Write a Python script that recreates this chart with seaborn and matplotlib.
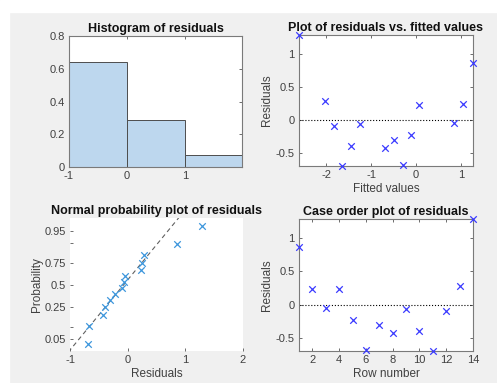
from statistics import NormalDist

import matplotlib

matplotlib.use("Agg")
import matplotlib.pyplot as plt
import numpy as np
import pandas as pd
import seaborn as sns
from matplotlib.patches import Rectangle

# residuals in case order (row 1..14) and matching fitted values
row_number = list(range(1, 15))
residuals = [0.86, 0.235, -0.04, 0.24, -0.22, -0.675, -0.30, -0.425, -0.06, -0.39, -0.69, -0.09, 0.285, 1.285]
fitted = [1.27, 0.07, 0.85, 1.04, -0.11, -0.30, -0.49, -0.69, -1.26, -1.45, -1.65, -1.84, -2.03, -2.61]

hist_edges = [-1, 0, 1, 2]
prob_ticks = [0.05, 0.10, 0.25, 0.50, 0.75, 0.90, 0.95]
prob_labels = ["0.05", "", "0.25", "0.5", "0.75", "", "0.95"]

df = pd.DataFrame({"row": row_number, "resid": residuals, "fitted": fitted})

sns.set_theme(style="white")
plt.rcParams["font.family"] = ["Liberation Sans", "DejaVu Sans"]

W, H = 497, 383
fig = plt.figure(figsize=(W / 100, H / 100), dpi=100, facecolor="#f0f0f0")
# white strips along the top and left edge of the screenshot
fig.patches.append(Rectangle((0, 1 - 12 / H), 1, 12 / H, transform=fig.transFigure, color="white", zorder=-1))
fig.patches.append(Rectangle((0, 0), 9 / W, 1, transform=fig.transFigure, color="white", zorder=-1))


def make_ax(left, right, top, bottom):
    return fig.add_axes([left / W, 1 - bottom / H, (right - left) / W, (bottom - top) / H])


def style(ax, spines=True):
    ax.set_facecolor("white")
    for s in ax.spines.values():
        s.set_visible(spines)
        s.set_color("#7a7a7a")
        s.set_linewidth(0.8)
    ax.tick_params(direction="in", length=2.5, width=0.6, color="#555555",
                   labelsize=8, labelcolor="#404040", pad=3,
                   top=True, right=True, bottom=True, left=True)


title_kw = dict(fontsize=9, fontweight="bold", color="#111111", pad=3)
label_kw = dict(fontsize=8.5, color="#404040")

# histogram of residuals
ax1 = make_ax(69, 242, 36, 167)
sns.histplot(data=df, x="resid", bins=hist_edges, stat="probability", color="#bdd7ee",
             edgecolor="#4d4d4d", linewidth=0.7, alpha=1, ax=ax1)
ax1.set_xlim(-1, 1.98)
ax1.set_ylim(0, 0.8)
ax1.set_xticks([-1, 0, 1])
ax1.set_xticklabels(["-1", "0", "1"])
ax1.set_yticks([0, 0.2, 0.4, 0.6, 0.8])
ax1.set_yticklabels(["0", "0.2", "0.4", "0.6", "0.8"])
ax1.set_xlabel("")
ax1.set_ylabel("")
ax1.set_title("Histogram of residuals", **title_kw)
style(ax1)

# residuals vs fitted
ax2 = make_ax(299, 473, 35, 166)
sns.scatterplot(data=df, x="fitted", y="resid", marker="x", color="#3a3aff", s=22,
                linewidth=0.9, ax=ax2, clip_on=False, zorder=3)
ax2.set_xlim(min(fitted), max(fitted))
ax2.set_ylim(min(residuals), max(residuals))
ax2.axhline(0, color="black", linestyle=":", linewidth=0.8)
ax2.set_xticks([-2, -1, 0, 1])
ax2.set_xticklabels(["-2", "-1", "0", "1"])
ax2.set_yticks([-0.5, 0, 0.5, 1])
ax2.set_yticklabels(["-0.5", "0", "0.5", "1"])
ax2.set_xlabel("Fitted values", labelpad=2, **label_kw)
ax2.set_ylabel("Residuals", labelpad=2, **label_kw)
ax2.set_title("Plot of residuals vs. fitted values", **title_kw)
style(ax2)

# normal probability plot
nd = NormalDist()
n = len(residuals)
sorted_res = np.sort(residuals)
z = [nd.inv_cdf((i - 0.5) / n) for i in range(1, n + 1)]
prob_df = pd.DataFrame({"resid": sorted_res, "z": z})
q1, q3 = np.percentile(sorted_res, [25, 75], method="hazen")
zq1, zq3 = nd.inv_cdf(0.25), nd.inv_cdf(0.75)
slope = (zq3 - zq1) / (q3 - q1)
line_x = np.array([-1.2, 2.0])
line_z = zq1 + slope * (line_x - q1)

ax3 = make_ax(70, 243, 218, 350.7)
ax3.plot(line_x, line_z, linestyle=(0, (4, 3)), color="#606060", linewidth=0.8)
sns.scatterplot(data=prob_df, x="resid", y="z", marker="x", color="#3c96dc", s=22,
                linewidth=0.9, ax=ax3, zorder=3)
ax3.set_xlim(-1, 2)
ax3.set_ylim(-2.0, 2.05)
ax3.set_xticks([-1, 0, 1, 2])
ax3.set_xticklabels(["-1", "0", "1", "2"])
ax3.set_yticks([nd.inv_cdf(p) for p in prob_ticks])
ax3.set_yticklabels(prob_labels)
ax3.set_xlabel("Residuals", labelpad=2, **label_kw)
ax3.set_ylabel("Probability", labelpad=1, **label_kw)
ax3.set_title("Normal probability plot of residuals", **title_kw)
style(ax3, spines=False)
ax3.tick_params(top=False, right=False)

# case order plot
ax4 = make_ax(299, 473, 219, 351)
sns.scatterplot(data=df, x="row", y="resid", marker="x", color="#3a3aff", s=22,
                linewidth=0.9, ax=ax4, clip_on=False, zorder=3)
ax4.set_xlim(1, 14)
ax4.set_ylim(min(residuals), max(residuals))
ax4.axhline(0, color="black", linestyle=":", linewidth=0.8)
ax4.set_xticks(list(range(2, 15, 2)))
ax4.set_xticklabels([str(v) for v in range(2, 15, 2)])
ax4.set_yticks([-0.5, 0, 0.5, 1])
ax4.set_yticklabels(["-0.5", "0", "0.5", "1"])
ax4.set_xlabel("Row number", labelpad=2, **label_kw)
ax4.set_ylabel("Residuals", labelpad=2, **label_kw)
ax4.set_title("Case order plot of residuals", **title_kw)
style(ax4)

fig.savefig("out.png", dpi=100, facecolor=fig.get_facecolor())
